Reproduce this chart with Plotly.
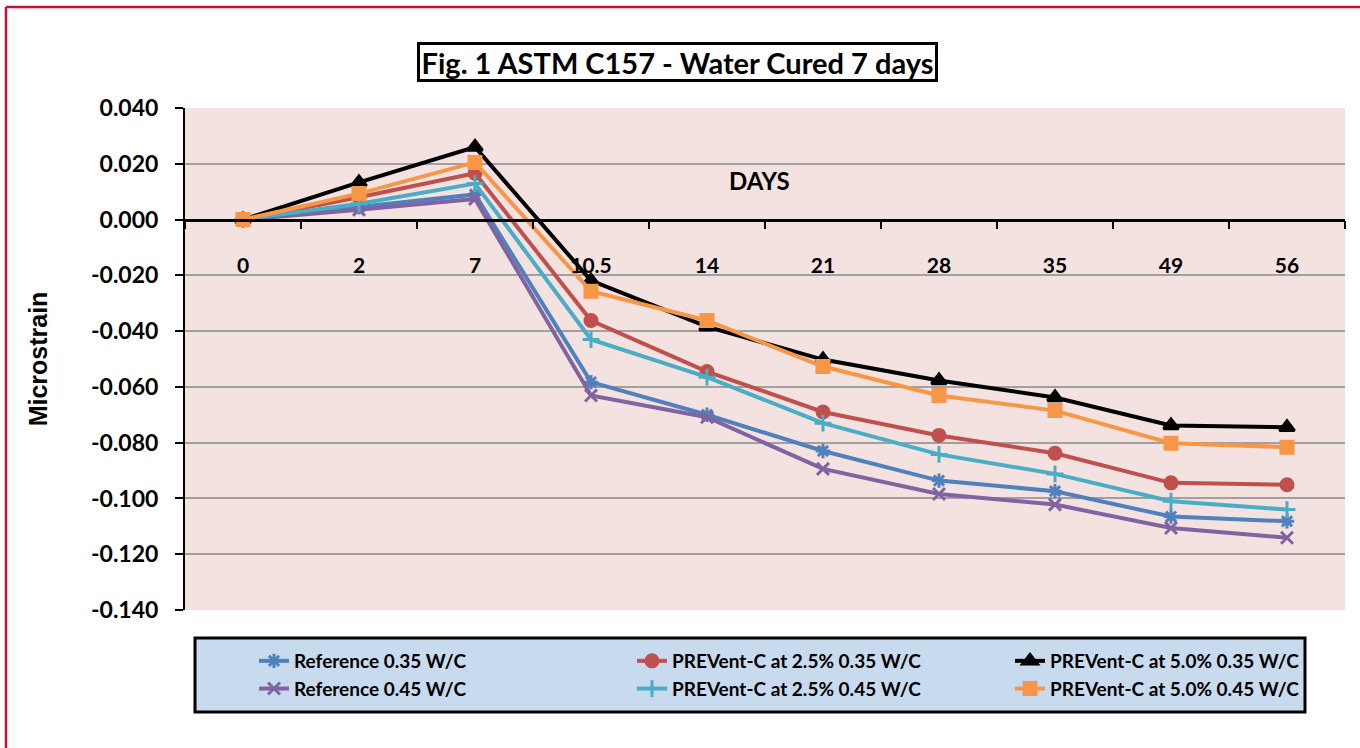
import plotly.graph_objects as go

days = ["0", "2", "7", "10.5", "14", "21", "28", "35", "49", "56"]

ref_035 = [0, 0.0044, 0.0090, -0.0583, -0.0700, -0.0830, -0.0936, -0.0974, -0.1065, -0.1082]
pc25_035 = [0, 0.0080, 0.0166, -0.0362, -0.0545, -0.0690, -0.0774, -0.0838, -0.0944, -0.0951]
pc50_035 = [0, 0.0133, 0.0260, -0.0219, -0.0384, -0.0502, -0.0577, -0.0638, -0.0738, -0.0745]
ref_045 = [0, 0.0035, 0.0074, -0.0631, -0.0709, -0.0894, -0.0984, -0.1022, -0.1106, -0.1141]
pc25_045 = [0, 0.0057, 0.0129, -0.0430, -0.0565, -0.0730, -0.0842, -0.0912, -0.1010, -0.1040]
pc50_045 = [0, 0.0093, 0.0205, -0.0257, -0.0362, -0.0527, -0.0631, -0.0685, -0.0802, -0.0816]

ytick_vals = [0.04, 0.02, 0.0, -0.02, -0.04, -0.06, -0.08, -0.10, -0.12, -0.14]
ytick_text = ["0.040", "0.020", "0.000", "-0.020", "-0.040", "-0.060", "-0.080", "-0.100", "-0.120", "-0.140"]

series = [
    ("Reference 0.35 W/C", ref_035, "#4F81BD", "asterisk-open", 12),
    ("PREVent-C at 2.5% 0.35 W/C", pc25_035, "#C0504D", "circle", 12),
    ("PREVent-C at 5.0% 0.35 W/C", pc50_035, "#000000", "triangle-up", 13),
    ("Reference 0.45 W/C", ref_045, "#8064A2", "x-thin-open", 12),
    ("PREVent-C at 2.5% 0.45 W/C", pc25_045, "#4BACC6", "cross-thin-open", 12),
    ("PREVent-C at 5.0% 0.45 W/C", pc50_045, "#F79646", "square", 12),
]

fig = go.Figure()
for name, vals, color, sym, size in series:
    fig.add_trace(go.Scatter(
        x=days, y=vals, name=name, mode="lines+markers",
        line=dict(color=color, width=4),
        marker=dict(symbol=sym, size=size, color=color,
                    line=dict(color=color, width=3)),
    ))

L, R, T, B = 185, 15, 108, 138
W, H = 1360, 748
pw, ph = W - L - R, H - T - B

def px_x(x):
    return (x - L) / pw

def px_y(y):
    return (H - B - y) / ph

fig.update_layout(
    width=W, height=H,
    margin=dict(l=L, r=R, t=T, b=B, autoexpand=False),
    paper_bgcolor="white",
    plot_bgcolor="#F4E2E1",
    font=dict(family="Lato", color="black"),
    showlegend=True,
    legend=dict(
        orientation="h", x=px_x(254), xanchor="left", y=px_y(642), yanchor="top",
        bgcolor="rgba(0,0,0,0)", borderwidth=0,
        entrywidth=333, entrywidthmode="pixels",
        font=dict(family="Lato", size=19, color="black", weight="bold"),
        traceorder="normal",
    ),
    xaxis=dict(
        type="category", range=[-0.5, 9.5],
        anchor="free", position=(0 - (-0.14)) / 0.18,
        showline=True, linecolor="black", linewidth=2.5,
        ticks="outside", tickson="boundaries", ticklen=8, tickwidth=2, tickcolor="black",
        showgrid=False, zeroline=False,
        tickfont=dict(family="Lato", size=21, color="black", weight="bold"),
        ticklabelstandoff=26,
    ),
    yaxis=dict(
        range=[-0.14, 0.04], tickvals=ytick_vals, ticktext=ytick_text,
        showline=True, linecolor="black", linewidth=2,
        ticks="outside", ticklen=8, tickwidth=2, tickcolor="black",
        showgrid=True, gridcolor="#A0A0A0", gridwidth=1.5,
        zeroline=False,
        tickfont=dict(family="Lato", size=23, color="black", weight="bold"),
        ticklabelstandoff=12,
        title=dict(text="Microstrain", standoff=36,
                   font=dict(family="Liberation Sans", size=25, color="black", weight="bold")),
    ),
    annotations=[
        dict(text="Fig. 1 ASTM C157 - Water Cured 7 days", xref="paper", yref="paper",
             x=px_x(677), y=px_y(62), xanchor="center", yanchor="middle", showarrow=False,
             font=dict(family="Lato", size=29, color="black", weight="bold"),
             width=515, height=34,
             bgcolor="white", bordercolor="black", borderwidth=3, borderpad=0),
        dict(text="DAYS", xref="paper", yref="paper",
             x=px_x(759), y=px_y(180), xanchor="center", yanchor="middle", showarrow=False,
             font=dict(family="Lato", size=24, color="black", weight="bold")),
    ],
    shapes=[
        dict(type="rect", xref="paper", yref="paper", layer="below",
             x0=px_x(195), x1=px_x(1305), y0=px_y(712), y1=px_y(638),
             fillcolor="#C8DAEE", line=dict(color="black", width=3)),
        dict(type="line", xref="paper", yref="paper",
             x0=px_x(6), x1=px_x(6), y0=px_y(760), y1=px_y(7),
             line=dict(color="#C8102E", width=2.5)),
        dict(type="line", xref="paper", yref="paper",
             x0=px_x(6), x1=px_x(1370), y0=px_y(7), y1=px_y(7),
             line=dict(color="#C8102E", width=2.5)),
    ],
)

fig.write_html("out.html", config={"displayModeBar": False},
               post_script="document.body.style.margin='0';")
